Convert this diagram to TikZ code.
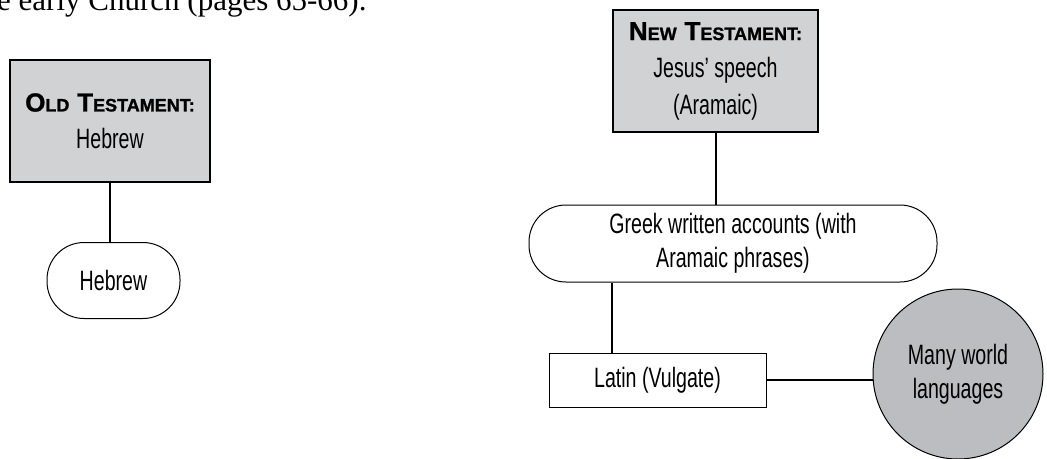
\documentclass[tikz,border=0pt]{standalone}
\usepackage{fontspec}
\setmainfont{Liberation Serif}
\newfontfamily\condfont[FakeStretch=0.7]{Liberation Sans}
\newfontfamily\headfont[FakeBold=1.2]{Liberation Sans Bold}
\definecolor{boxgray}{RGB}{209,210,212}
\definecolor{circgray}{RGB}{188,189,192}
% bold caps with smaller caps after the first letter
\newcommand{\bigsmall}[2]{{\fontsize{26}{26}\selectfont #1}{\fontsize{18}{18}\selectfont #2}}
\newcommand{\heading}[1]{{\headfont #1}}

\tikzset{
    testbox/.style={draw, line width=2pt, fill=boxgray, minimum width=205, minimum height=122,
        align=center, font=\condfont\fontsize{28}{37}\selectfont},
    pill/.style={draw, line width=1pt, rounded corners=37, minimum height=76,
        align=center, font=\condfont\fontsize{28}{34}\selectfont},
    link/.style={line width=2pt}
}

\begin{document}
\begin{tikzpicture}[x=1pt, y=-1pt]
        \useasboundingbox (0,0) rectangle (1047,458);

        \node[anchor=base west, inner sep=0pt, font=\fontsize{31}{31}\selectfont] (intro) at (-3,10) {e early Church (pages 65-66).};

        \node[testbox, minimum width=200] (old) at (110,121) {\heading{\bigsmall{O}{LD} \bigsmall{T}{ESTAMENT:}}\\Hebrew};
        \node[pill, minimum width=133] (hebrew) at (113.5,280.5) {Hebrew};

        \node[testbox] (new) at (715.5,71) {\heading{\bigsmall{N}{EW} \bigsmall{T}{ESTAMENT:}}\\Jesus’ speech\\(Aramaic)};
        \node[pill, minimum width=408, minimum height=77] (greek) at (733,243.5) {Greek written accounts (with\\Aramaic phrases)};
        \node[draw, line width=1pt, fill=white, minimum width=217, minimum height=54,
            font=\condfont\fontsize{28}{34}\selectfont] (latin) at (657.5,380) {Latin (Vulgate)};

        \draw[link] (old.south) -- (old.south |- hebrew.north);
        \draw[link] (new.south) -- (new.south |- greek.north);
        \draw[link] ([xshift=-45.5]latin.north) -- ([xshift=-45.5]latin.north |- greek.south);
        \draw[link] (latin.east) -- ++(110,0) coordinate (worldin);

        \node[draw, circle, line width=1pt, fill=circgray, minimum size=170, align=center,
            font=\condfont\fontsize{28}{34}\selectfont] (world) at (958,374) {Many world\\languages};
    \end{tikzpicture}
\end{document}
